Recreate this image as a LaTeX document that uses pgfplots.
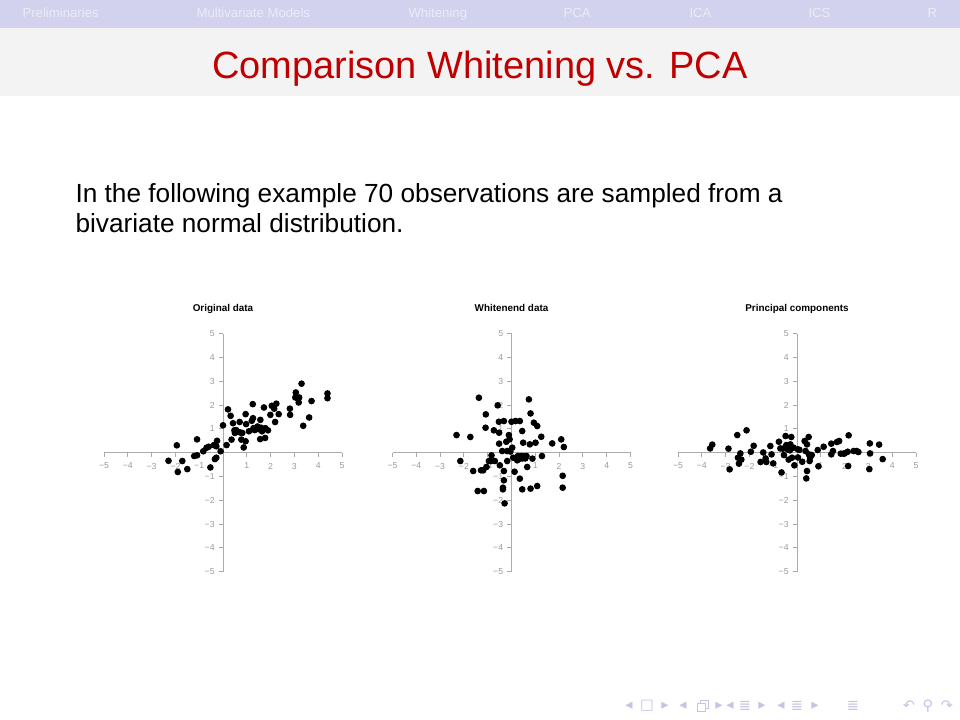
\documentclass[border=0pt]{standalone}
\usepackage{fontspec}
\setmainfont{Liberation Sans}
\newfontfamily\symfont{DejaVu Sans}
\usepackage{pgfplots}
\usepackage{pgfplotstable}
\pgfplotsset{compat=1.18}

\definecolor{headbg}{HTML}{D2D2EE}
\definecolor{headfg}{HTML}{EBEBF8}
\definecolor{titlebg}{HTML}{F3F3F3}
\definecolor{titlefg}{HTML}{C00000}
\definecolor{axgray}{HTML}{ABABAB}
\definecolor{labgray}{HTML}{9C9C9C}
\definecolor{navsym}{HTML}{C4C4E4}
\newcommand\px{0.133333mm}

% original sample
\pgfplotstableread{
x y
-2.29 -0.34
-1.94 0.31
-1.90 -0.81
-1.71 -0.35
-1.50 -0.69
-1.09 0.56
-1.21 -0.14
-1.09 -0.11
-0.83 0.06
-0.69 0.21
-0.60 0.25
-0.53 -0.62
-0.38 0.32
-0.25 0.50
-0.28 0.27
-0.28 -0.21
-0.34 -0.27
-0.10 0.06
0.00 1.15
0.15 0.32
0.21 1.82
0.32 1.55
0.36 0.55
0.42 1.24
0.48 0.94
0.50 0.83
0.59 0.90
0.70 1.29
0.72 0.85
0.77 0.55
0.81 0.83
0.87 0.22
0.95 1.62
0.95 0.48
0.97 1.20
1.09 0.90
1.21 1.34
1.25 2.04
1.26 1.45
1.28 1.03
1.33 0.95
1.49 0.99
1.57 1.38
1.56 0.57
1.64 0.90
1.72 1.90
1.77 0.62
1.78 1.03
1.89 0.94
1.99 1.59
2.05 1.97
2.15 1.85
2.19 1.29
2.24 2.06
2.34 1.62
2.81 1.85
2.82 1.59
3.04 2.32
3.06 2.53
3.18 2.11
3.20 2.32
3.30 2.90
3.37 1.13
3.62 1.48
3.72 2.17
4.39 2.49
4.39 2.29
0.55 0.95
1.45 1.10
1.60 1.05
}\origdata

% whitened sample
\pgfplotstableread{
x y
-2.31 0.74
-2.15 -0.35
-1.73 0.66
-1.61 -0.77
-1.42 -1.61
-1.37 2.31
-1.28 -0.74
-1.19 -0.74
-1.16 -1.61
-1.08 1.61
-1.09 1.05
-1.05 -0.60
-0.95 -0.35
-0.86 -0.35
-0.84 -0.11
-0.74 0.94
-0.70 -0.35
-0.58 1.99
-0.53 1.30
-0.52 0.84
-0.52 0.38
-0.49 -0.53
-0.39 0.07
-0.32 1.33
-0.32 -0.77
-0.32 -1.16
-0.36 -1.47
-0.36 -1.54
-0.29 -2.13
-0.22 0.46
-0.18 -0.35
-0.18 0.07
-0.11 0.74
-0.08 0.56
0.00 1.30
0.03 0.21
0.07 -0.21
0.13 -0.80
0.17 1.33
0.27 -0.14
0.24 -0.32
0.35 1.33
0.35 -1.09
0.41 -0.14
0.45 0.91
0.49 0.42
0.45 -1.54
0.46 -0.24
0.58 -0.24
0.63 -0.14
0.66 -0.60
0.73 2.24
0.77 0.35
0.80 1.65
0.80 -1.51
0.88 -0.25
0.94 1.26
1.01 0.42
1.08 1.12
1.08 -1.40
1.25 0.67
1.28 -0.14
1.71 0.39
2.09 0.56
2.20 0.24
2.15 -0.97
2.15 -1.47
0.35 -0.25
0.52 -0.15
-0.05 0.05
}\whitedata

% principal components
\pgfplotstableread{
x y
-3.65 0.18
-3.56 0.34
-2.88 0.17
-2.83 -0.70
-2.51 0.74
-2.48 -0.21
-2.44 -0.46
-2.38 -0.03
-2.34 -0.29
-2.12 0.94
-1.94 0.04
-1.82 0.29
-1.53 -0.39
-1.42 0.01
-1.32 -0.24
-1.29 -0.39
-1.12 0.28
-1.07 -0.07
-1.00 -0.45
-0.76 0.46
-0.70 0.18
-0.65 -0.83
-0.59 0.17
-0.55 -0.10
-0.48 0.70
-0.45 0.32
-0.38 0.13
-0.35 -0.29
-0.28 0.35
-0.24 0.66
-0.21 -0.21
-0.14 0.21
-0.11 -0.53
0.04 0.14
0.04 -0.20
0.22 -0.38
0.32 0.49
0.36 0.07
0.42 0.35
0.49 0.66
0.42 -0.77
0.39 -1.08
0.50 -0.07
0.53 -0.35
0.55 -0.21
0.62 -0.10
0.87 0.11
0.90 -0.57
1.12 0.25
1.44 0.38
1.44 -0.07
1.51 0.07
1.68 0.45
1.77 0.49
1.84 -0.04
1.96 -0.04
2.13 0.04
2.17 0.73
2.15 -0.56
2.38 0.07
2.50 0.07
2.58 0.03
3.06 0.39
3.07 -0.03
3.04 -0.69
3.45 0.34
3.60 -0.27
-0.30 0.10
0.10 0.12
2.00 -0.03
}\pcdata

\pgfplotsset{panel/.style={
  anchor=origin, x=3.173mm, y=3.173mm,
  xmin=-5, xmax=5, ymin=-5, ymax=5,
  axis lines=middle,
  axis line style={draw=axgray, line width=0.35pt, -},
  tick align=outside, major tick length=0.55mm,
  tick style={draw=axgray, line width=0.35pt},
  xtick={-5,-4,-3,-2,-1,1,2,3,4,5},
  ytick={-5,-4,-3,-2,-1,1,2,3,4,5},
  xticklabels={−5,−4,−3,−2,−1,1,2,3,4,5},
  yticklabels={−5,−4,−3,−2,−1,1,2,3,4,5},
  ticklabel style={font=\fontsize{3.3}{4}\selectfont, text=labgray, inner sep=0.3mm},
  xticklabel style={yshift=-0.45mm},
  yticklabel style={xshift=-0.2mm},
  title style={at={(0.5,1)}, anchor=base, yshift=0.8mm,
    font=\bfseries\fontsize{3.75}{4.5}\selectfont},
  clip=false,
}}

\begin{document}
\begin{tikzpicture}
\useasboundingbox (0,0) rectangle (960*\px,-720*\px);
\fill[white] (0,0) rectangle (960*\px,-720*\px);
\fill[headbg] (0,0) rectangle (960*\px,-28*\px);
\fill[titlebg] (0,-28*\px) rectangle (960*\px,-96*\px);

\begin{scope}[x=\px, y=-\px]
  % navigation bar
  \begin{scope}[every node/.style={anchor=base west, inner sep=0, text=headfg,
      font=\fontsize{5}{6}\selectfont}]
    \node at (22,18) {Preliminaries};
    \node at (196,18) {Multivariate Models};
    \node at (408,18) {Whitening};
    \node at (563,18) {PCA};
    \node at (689,18) {ICA};
    \node at (808,18) {ICS};
    \node at (927,18) {R};
  \end{scope}
  % frame title
  \node[anchor=base, inner sep=0, text=titlefg, font=\fontsize{14.4}{17}\selectfont]
    at (480,79) {Comparison Whitening vs. PCA};
  % body text
  \node[anchor=base west, inner sep=0, font=\fontsize{9.95}{12}\selectfont]
    at (75,203) {In the following example 70 observations are sampled from a};
  \node[anchor=base west, inner sep=0, font=\fontsize{9.95}{12}\selectfont]
    at (75,233) {bivariate normal distribution.};
  % navigation symbols
  \begin{scope}[every node/.style={inner sep=0, text=navsym,
      font=\symfont\fontsize{5.5}{6}\selectfont}]
    \node at (629,706) {◂}; \node at (647,706) {□}; \node at (665,706) {▸};
    \node at (683,706) {◂}; \node at (719,706) {▸};
    \node at (730,706) {◂}; \node at (745,706) {≣}; \node at (762,706) {▸};
    \node at (781,706) {◂}; \node at (797,706) {≣}; \node at (815,706) {▸};
    \node at (853,706) {≣};
    \node at (909,706) {↶}; \node at (928,706) {⚲}; \node at (947,706) {↷};
  \end{scope}
  % stacked-window symbol (no font has it)
  \draw[navsym, line width=0.3pt] (697,703) rectangle (705,711);
  \draw[navsym, line width=0.3pt] (700,703) -- (700,700) -- (708,700) -- (708,708) -- (705,708);
\end{scope}

\begin{axis}[panel, at={(223*\px,-452.7*\px)}, title={Original data}]
  \addplot[only marks, mark=*, mark size=1.05pt, black] table {\origdata};
\end{axis}
\begin{axis}[panel, at={(511.5*\px,-452.7*\px)}, title={Whitenend data}]
  \addplot[only marks, mark=*, mark size=1.05pt, black] table {\whitedata};
\end{axis}
\begin{axis}[panel, at={(797*\px,-452.7*\px)}, title={Principal components}]
  \addplot[only marks, mark=*, mark size=1.05pt, black] table {\pcdata};
\end{axis}
\end{tikzpicture}
\end{document}
